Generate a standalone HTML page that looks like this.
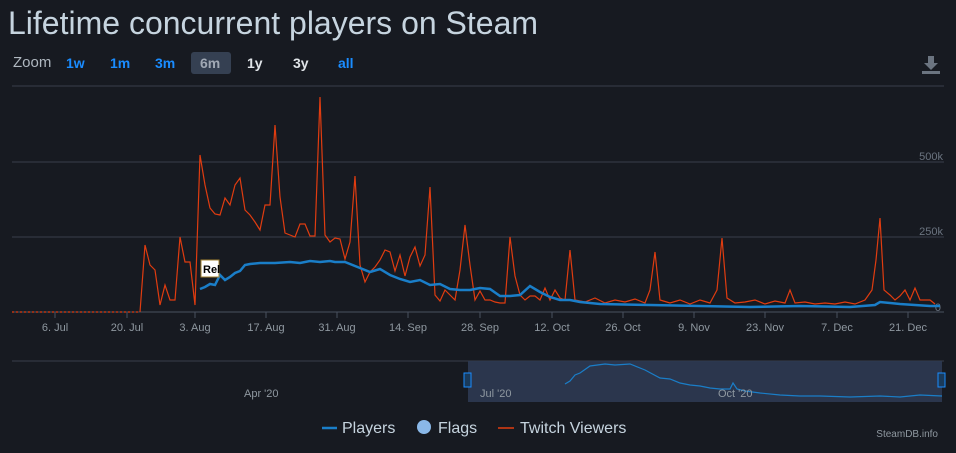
<!DOCTYPE html>
<html><head><meta charset="utf-8"><style>
body{margin:0;width:956px;height:448px;background:#171a21;overflow:hidden;font-family:"Liberation Sans",sans-serif}
</style></head><body>
<svg width="956" height="448" xmlns="http://www.w3.org/2000/svg" font-family="Liberation Sans, sans-serif">
<rect width="956" height="448" fill="#171a21"/>
<text x="8" y="34" font-size="32" fill="#c6d4df">Lifetime concurrent players on Steam</text>
<text x="13" y="67" font-size="15" fill="#b0b8c0">Zoom</text>
<rect x="191" y="52" width="40" height="22" rx="3" fill="#354052"/>
<g font-size="14" font-weight="bold" fill="#1a8cff">
<text x="66" y="68">1w</text><text x="110" y="68">1m</text><text x="155" y="68">3m</text>
<text x="200" y="68" fill="#a0a8b4">6m</text><text x="247" y="68" fill="#e0e4e8">1y</text><text x="293" y="68" fill="#e0e4e8">3y</text><text x="338" y="68">all</text></g>
<g fill="#6b7480"><rect x="928" y="56" width="6" height="8"/><polygon points="924,63 938,63 931,70"/><rect x="922" y="71" width="18" height="3"/></g>
<g stroke="#3a3f4a" stroke-width="1"><line x1="12" y1="86" x2="944" y2="86"/><line x1="12" y1="162" x2="944" y2="162"/><line x1="12" y1="237" x2="944" y2="237"/></g>
<line x1="12" y1="312" x2="944" y2="312" stroke="#4a5160"/>
<g stroke="#4a5160"><line x1="55" y1="312" x2="55" y2="318"/><line x1="127" y1="312" x2="127" y2="318"/><line x1="195" y1="312" x2="195" y2="318"/><line x1="266" y1="312" x2="266" y2="318"/><line x1="337" y1="312" x2="337" y2="318"/><line x1="408" y1="312" x2="408" y2="318"/><line x1="480" y1="312" x2="480" y2="318"/><line x1="552" y1="312" x2="552" y2="318"/><line x1="623" y1="312" x2="623" y2="318"/><line x1="694" y1="312" x2="694" y2="318"/><line x1="765" y1="312" x2="765" y2="318"/><line x1="837" y1="312" x2="837" y2="318"/><line x1="908" y1="312" x2="908" y2="318"/></g>
<g font-size="11" fill="#8f98a0" text-anchor="middle">
<text x="55" y="331">6. Jul</text><text x="127" y="331">20. Jul</text><text x="195" y="331">3. Aug</text><text x="266" y="331">17. Aug</text><text x="337" y="331">31. Aug</text><text x="408" y="331">14. Sep</text><text x="480" y="331">28. Sep</text><text x="552" y="331">12. Oct</text><text x="623" y="331">26. Oct</text><text x="694" y="331">9. Nov</text><text x="765" y="331">23. Nov</text><text x="837" y="331">7. Dec</text><text x="908" y="331">21. Dec</text></g>
<g font-size="11" fill="#6b7480" text-anchor="end"><text x="943" y="160">500k</text><text x="943" y="235">250k</text><text x="941" y="311">0</text></g>
<line x1="12" y1="312" x2="140" y2="312" stroke="#e03c10" stroke-width="1.2" stroke-dasharray="2,2"/>
<polyline fill="none" stroke="#e03c10" stroke-width="1.2" points="140,312 145,245 150,265 155,270 160,305 165,285 170,300 175,300 180,237 185,262 190,262 195,305 200,155 205,185 210,208 215,214 220,215 225,198 230,205 235,185 240,178 245,210 250,215 255,222 260,230 265,205 270,205 275,125 280,197 285,233 290,235 295,237 300,224 305,224 310,236 315,236 320,97 325,235 330,242 335,238 340,239 345,259 350,242 355,176 360,265 365,282 370,272 375,267 380,260 385,250 390,252 395,271 400,255 405,276 410,257 415,247 420,266 425,255 430,187 435,295 440,301 445,290 450,295 455,300 460,270 465,225 470,265 475,300 480,291 485,300 490,300 495,302 500,303 505,303 510,237 515,276 520,295 525,300 530,296 535,296 540,300 545,288 550,300 555,290 560,298 565,300 570,250 575,300 585,302 595,298 605,303 615,300 625,302 635,299 645,303 650,290 655,252 660,300 670,303 680,300 690,304 700,300 710,303 717,290 722,238 727,298 735,303 745,302 755,300 765,304 775,301 785,303 790,290 795,303 805,302 815,304 825,303 835,304 845,302 855,304 865,300 872,290 876,260 880,218 884,290 890,295 895,300 900,296 905,290 910,300 915,288 920,300 925,300 930,300 935,304"/>
<polyline fill="none" stroke="#1a7ec8" stroke-width="2.5" points="200,289 205,287 210,284 215,285 220,275 225,280 230,277 235,273 240,271 245,265 250,264 260,263 275,263 290,262 300,263 310,261 320,262 330,261 335,262 345,262 360,268 370,272 380,269 390,275 400,279 410,282 420,280 430,285 440,284 450,289 460,290 470,290 480,288 490,289 500,296 510,296 520,295 530,286 540,292 550,297 560,300 570,300 580,302 600,304 650,305 700,306 750,307 800,306 850,307 875,305 880,302 900,304 930,306 940,306"/>
<rect x="201" y="260" width="18" height="17" fill="#fff" stroke="#a08030"/>
<text x="203" y="273" font-size="11" font-weight="bold" fill="#000">Rel</text>
<line x1="12" y1="361" x2="944" y2="361" stroke="#3a3f4a"/>
<rect x="468" y="361" width="474" height="41" fill="#2e3a52" opacity="0.9"/>
<polyline fill="none" stroke="#1a7ec8" stroke-width="1.2" points="565,384 570,381 575,375 580,373 590,366 605,364 615,365 630,364 645,370 660,378 670,379 680,383 690,385 700,386 710,388 720,389 730,389 733,383 737,389 745,391 760,393 780,395 800,396 820,396 850,397 880,396 900,397 910,396 920,395 942,396"/>
<g fill="#1a3a5a" stroke="#1a8cff"><rect x="464" y="373" width="7" height="14"/><rect x="938" y="373" width="7" height="14"/></g>
<g font-size="11" fill="#8f98a0"><text x="244" y="397">Apr '20</text><text x="480" y="397">Jul '20</text><text x="718" y="397">Oct '20</text></g>
<line x1="322" y1="428" x2="337" y2="428" stroke="#1a7ec8" stroke-width="2.5"/>
<text x="342" y="433" font-size="16" fill="#c6d4df">Players</text>
<circle cx="424" cy="427" r="7" fill="#8ab8e8"/>
<text x="438" y="433" font-size="16" fill="#c6d4df">Flags</text>
<line x1="498" y1="428" x2="514" y2="428" stroke="#e03c10" stroke-width="1.5"/>
<text x="520" y="433" font-size="16" fill="#c6d4df">Twitch Viewers</text>
<text x="938" y="437" font-size="10" fill="#8f98a0" text-anchor="end">SteamDB.info</text>
</svg>
</body></html>
